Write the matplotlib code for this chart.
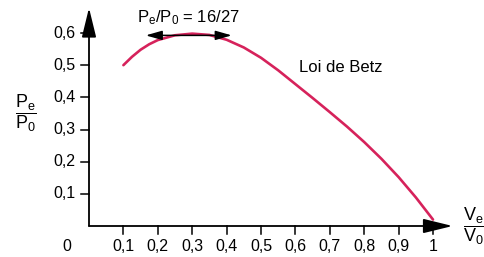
import matplotlib
matplotlib.use('Agg')
import matplotlib.pyplot as plt

plt.rcParams['font.family'] = ['Liberation Sans', 'DejaVu Sans']
plt.rcParams['mathtext.fontset'] = 'custom'
plt.rcParams['mathtext.rm'] = 'Liberation Sans'
plt.rcParams['mathtext.it'] = 'Liberation Sans:italic'

# values
ve_v0 = [0.10, 0.125, 0.15, 0.175, 0.20, 0.25, 0.30, 0.35, 0.40, 0.45, 0.50, 0.55,
         0.60, 0.65, 0.70, 0.75, 0.80, 0.85, 0.90, 0.95, 1.00]
pe_p0 = [0.500, 0.526, 0.548, 0.565, 0.578, 0.593, 0.598, 0.594, 0.579, 0.555, 0.523, 0.484,
         0.441, 0.398, 0.354, 0.309, 0.261, 0.209, 0.152, 0.089, 0.020]
x_ticks = [0.1, 0.2, 0.3, 0.4, 0.5, 0.6, 0.7, 0.8, 0.9, 1.0]
x_labels = ['0,1', '0,2', '0,3', '0,4', '0,5', '0,6', '0,7', '0,8', '0,9', '1']
y_ticks = [0.1, 0.2, 0.3, 0.4, 0.5, 0.6]
y_labels = ['0,1', '0,2', '0,3', '0,4', '0,5', '0,6']
betz_max = 16 / 27

W, H = 485, 257
fig = plt.figure(figsize=(W / 100, H / 100), dpi=100)
# axes placed so x=0 -> px 89, x=1 -> px 433, y=0 -> px 226, y=0.6 -> px 33
x0, x1 = 89, 433
y0, y6 = 226, 33
sx = (x1 - x0)
sy = (y0 - y6) / 0.6
xmin, xmax = -0.25, 1.15
ymin, ymax = -0.1, 0.75
left = x0 + xmin * sx
right = x0 + xmax * sx
bottom = y0 - ymin * sy
top = y0 - ymax * sy
ax = fig.add_axes([left / W, 1 - bottom / H, (right - left) / W, (bottom - top) / H])
ax.set_xlim(xmin, xmax)
ax.set_ylim(ymin, ymax)
ax.axis('off')

# axes with arrows
head = '-|>,head_length=0.9,head_width=0.22'
ax.annotate('', xy=(1.057, 0), xytext=(0, 0),
            arrowprops=dict(arrowstyle=head, color='black',
                            lw=1.3, mutation_scale=20, shrinkA=0, shrinkB=0))
ax.annotate('', xy=(0, 0.678), xytext=(0, 0),
            arrowprops=dict(arrowstyle=head, color='black',
                            lw=1.3, mutation_scale=20, shrinkA=0, shrinkB=0))

# ticks
tl_x = 8 / sx
tl_y = 8 / sy
for t, lab in zip(x_ticks, x_labels):
    ax.plot([t, t], [0, -tl_y], color='black', lw=1.1)
    ax.text(t, -0.065, lab, ha='center', va='center', fontsize=11.5)
for t, lab in zip(y_ticks, y_labels):
    ax.plot([0, -tl_x], [t, t], color='black', lw=1.1)
    ax.text(-0.04, t, lab, ha='right', va='center', fontsize=11.5)
ax.text(-0.064, -0.065, '0', ha='center', va='center', fontsize=11.5)

# curve
ax.plot(ve_v0, pe_p0, color='#d6225b', lw=1.9, solid_capstyle='round',
        solid_joinstyle='round')

# max annotation
ax.annotate('', xy=(0.165, betz_max), xytext=(0.415, betz_max),
            arrowprops=dict(arrowstyle='<|-|>,head_length=0.7,head_width=0.2',
                            color='black', lw=1.1,
                            mutation_scale=14, shrinkA=0, shrinkB=0))
ax.text(0.29, 0.618, r'$\mathrm{P}_\mathrm{e}\mathrm{/P}_0$ = 16/27',
        ha='center', va='bottom', fontsize=12)

ax.text(0.733, 0.494, 'Loi de Betz', ha='center', va='center', fontsize=12)

# axis labels as fractions
ax.text(-0.185, 0.35, r'$\dfrac{\mathrm{P}_\mathrm{e}}{\mathrm{P}_0}$',
        ha='center', va='center', fontsize=13)
ax.text(1.12, 0.0, r'$\dfrac{\mathrm{V}_\mathrm{e}}{\mathrm{V}_0}$',
        ha='center', va='center', fontsize=13)

fig.savefig('out.png', dpi=100)
